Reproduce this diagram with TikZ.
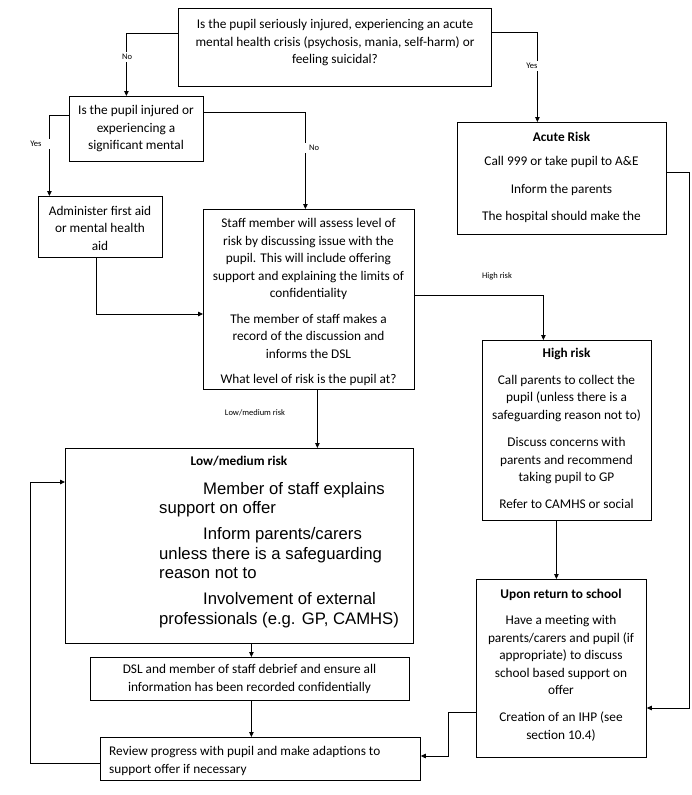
\documentclass[tikz,border=0pt]{standalone}
\usepackage{fontspec}
\setmainfont{Carlito}
\newfontfamily\arialfont{Liberation Sans}
\usetikzlibrary{arrows.meta,calc}
\begin{document}
\begin{tikzpicture}[x=1pt,y=-1pt,
  box/.style={draw, line width=0.8pt, inner sep=0pt, anchor=north west},
  txt/.style={font=\fontsize{13.3}{17.4}\selectfont, align=center, inner sep=0pt, anchor=north},
  lbl/.style={font=\fontsize{8.5}{10}\selectfont, fill=white, inner sep=2pt},
  arr/.style={line width=0.8pt, -{Triangle[length=5pt,width=4.5pt]}},
  conn/.style={line width=0.8pt}]
\useasboundingbox (0,0) rectangle (691,795);

% boxes
\node[box, minimum width=313pt, minimum height=78pt] (q1) at (178,8) {};
\node[box, minimum width=134pt, minimum height=65pt] (q2) at (69,96) {};
\node[box, minimum width=124pt, minimum height=61pt] (admin) at (38,196) {};
\node[box, minimum width=211pt, minimum height=180pt] (staff) at (203,209) {};
\node[box, minimum width=209pt, minimum height=112pt] (acute) at (457,122) {};
\node[box, minimum width=169pt, minimum height=180pt] (high) at (482,340) {};
\node[box, minimum width=348pt, minimum height=195pt] (lowmed) at (65,448) {};
\node[box, minimum width=319pt, minimum height=43pt] (dsl) at (90,657) {};
\node[box, minimum width=170pt, minimum height=178pt] (upon) at (476,579) {};
\node[box, minimum width=320pt, minimum height=43pt] (review) at (100,737) {};

% texts
\node[txt] (q1t) at (335,19.5) {Is the pupil seriously injured, experiencing an acute\\mental health crisis (psychosis, mania, self-harm) or\\feeling suicidal?};
\node[txt] (q2t) at (136,105.5) {Is the pupil injured or\\experiencing a\\significant mental};
\node[txt] (admint) at (100,206) {Administer first aid\\or mental health\\aid};
\node[txt] (stafft) at (308.5,218.5) {Staff member will assess level of\\risk by discussing issue with the\\pupil. This will include offering\\support and explaining the limits of\\confidentiality\\[8.5pt]The member of staff makes a\\record of the discussion and\\informs the DSL\\[8pt]What level of risk is the pupil at?};
\node[txt] (acutet) at (561.5,132) {\textbf{Acute Risk}\\[7pt]Call 999 or take pupil to A\&E\\[10pt]Inform the parents\\[9.5pt]The hospital should make the};
\node[txt] (hight) at (566.5,348) {\textbf{High risk}\\[9.5pt]Call parents to collect the\\pupil (unless there is a\\safeguarding reason not to)\\[10pt]Discuss concerns with\\parents and recommend\\taking pupil to GP\\[9.5pt]Refer to CAMHS or social};
\node[txt] (upont) at (561,588.5) {\textbf{Upon return to school}\\[9.5pt]Have a meeting with\\parents/carers and pupil (if\\appropriate) to discuss\\school based support on\\offer\\[10pt]Creation of an IHP (see\\section 10.4)};
\node[txt] (lowmedt) at (239,456) {\textbf{Low/medium risk}};
\node[inner sep=0pt, anchor=north west, align=left, font=\arialfont\fontsize{16.7}{19.5}\selectfont] (lowmedb) at (159,482)
  {\hspace*{44pt}Member of staff explains\\support on offer\\[6.5pt]\hspace*{44pt}Inform parents/carers\\unless there is a safeguarding\\reason not to\\[6.5pt]\hspace*{44pt}Involvement of external\\professionals (e.g. GP, CAMHS)};
\node[txt] (dslt) at (249.5,664.5) {DSL and member of staff debrief and ensure all\\information has been recorded confidentially};
\node[txt, anchor=north west, align=left] (reviewt) at (109,746.5) {Review progress with pupil and make adaptions to\\support offer if necessary};

% connectors
\draw[arr] ([yshift=-25pt]q1.north west) -| ([xshift=-10pt]q2.north);
\draw[arr] ([yshift=-24pt]q1.north east) -| ([xshift=-24.5pt]acute.north);
\draw[arr] ([yshift=-19pt]q2.north west) -| ([xshift=-51pt]admin.north);
\draw[arr] ([yshift=-16pt]q2.north east) -| ([xshift=-3.5pt]staff.north);
\draw[arr] ([xshift=-4pt]admin.south) |- ([yshift=-105pt]staff.north west);
\draw[arr] ([yshift=-86pt]staff.north east) -| ([xshift=-23.5pt]high.north);
\draw[arr] ([yshift=-50pt]acute.north east) -- ++(23,0) |- ([yshift=-129pt]upon.north east);
\draw[arr] ([xshift=-10.5pt]high.south) -- ([xshift=-10.5pt]high.south |- upon.north);
\draw[arr] ([xshift=8.5pt]staff.south) -- ([xshift=8.5pt]staff.south |- lowmed.north);
\draw[arr] ([xshift=12pt]lowmed.south) -- ([xshift=12pt]lowmed.south |- dsl.north);
\draw[arr] ([xshift=1.5pt]dsl.south) -- ([xshift=1.5pt]dsl.south |- review.north);
\draw[arr] ([yshift=-4.5pt]review.west) -- ++(-70,0) |- ([yshift=-34pt]lowmed.north west);
\draw[arr] ([yshift=-133pt]upon.north west) -- ++(-28,0) |- ([yshift=-19pt]review.north east);

% labels
\node[lbl] (l1) at (127,57) {No};
\node[lbl] (l2) at (532,66) {Yes};
\node[lbl, minimum width=38pt] (l3) at (36,144) {Yes};
\node[lbl, minimum width=28pt] (l4) at (314,148) {\raisebox{-6pt}{No}};
\node[lbl, fill=none] (l5) at (497,276) {High risk};
\node[lbl, fill=none] (l6) at (255,413) {Low/medium risk};
\end{tikzpicture}
\end{document}
